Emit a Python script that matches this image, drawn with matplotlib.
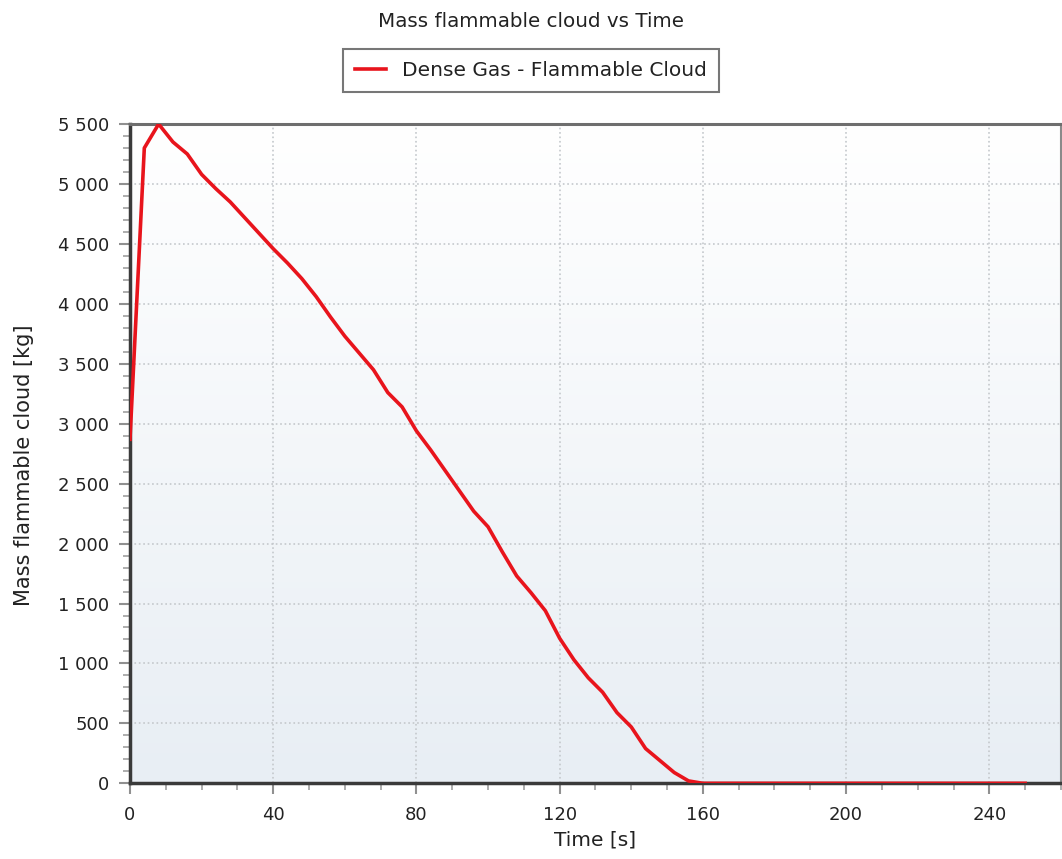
import numpy as np
import matplotlib
matplotlib.use('Agg')
import matplotlib.pyplot as plt
from matplotlib.ticker import FuncFormatter, MultipleLocator

# Dense gas flammable cloud mass
time_s = [0, 4, 8, 12, 16, 20, 24, 28, 32, 36, 40, 44, 48, 52, 56, 60,
          64, 68, 72, 76, 80, 84, 88, 92, 96, 100, 104, 108, 112, 116,
          120, 124, 128, 132, 136, 140, 144, 148, 152, 156, 160, 250]
mass_kg = [2870, 5300, 5500, 5350, 5250, 5080, 4960, 4850, 4720, 4590,
           4460, 4340, 4210, 4060, 3890, 3730, 3590, 3450, 3260, 3140,
           2940, 2780, 2610, 2440, 2270, 2140, 1930, 1730, 1590, 1440,
           1210, 1030, 880, 760, 590, 470, 290, 190, 90, 20, 0, 0]

series_label = 'Dense Gas - Flammable Cloud'
title = 'Mass flammable cloud vs Time'
x_label = 'Time [s]'
y_label = 'Mass flammable cloud [kg]'


def thousands(v, pos):
    return f'{int(round(v)):,}'.replace(',', ' ')


fig = plt.figure(figsize=(10.62, 8.59), dpi=100)
ax = fig.add_axes([0.1224, 0.0881, 0.8766, 0.7675])

x_max, y_max = 260, 5500

# vertical gradient background, white at top to pale blue-grey at bottom
grad = np.linspace(0, 1, 256).reshape(-1, 1)
top = np.array([1.0, 1.0, 1.0])
bot = np.array([232, 238, 244]) / 255
img = top[None, None, :] * (1 - grad[..., None]) + bot[None, None, :] * grad[..., None]
ax.imshow(img, extent=[0, x_max, 0, y_max], aspect='auto', origin='upper', zorder=0)

ax.plot(time_s, mass_kg, color='#e8141c', linewidth=2.6, label=series_label,
        zorder=3, solid_joinstyle='round')

ax.set_xlim(0, x_max)
ax.set_ylim(0, y_max)
ax.xaxis.set_major_locator(MultipleLocator(40))
ax.xaxis.set_minor_locator(MultipleLocator(10))
ax.yaxis.set_major_locator(MultipleLocator(500))
ax.yaxis.set_minor_locator(MultipleLocator(100))
ax.yaxis.set_major_formatter(FuncFormatter(thousands))

ax.grid(True, which='major', color='#c4c8cc', linestyle=':', linewidth=1.2, zorder=1)
ax.set_axisbelow(True)

ax.tick_params(axis='both', which='major', length=8, width=1.5, color='#909090',
               labelsize=13, labelcolor='#222222')
ax.tick_params(axis='y', which='major', pad=7)
ax.tick_params(axis='x', which='major', pad=8)
ax.tick_params(axis='both', which='minor', length=5, width=1.2, color='#a0a0a0')

for side, (c, w) in {'left': ('#3a3a3a', 2.5), 'bottom': ('#3a3a3a', 2.5),
                     'top': ('#6e6e6e', 2.2), 'right': ('#8a8a8a', 1.5)}.items():
    ax.spines[side].set_color(c)
    ax.spines[side].set_linewidth(w)

ax.set_xlabel(x_label, fontsize=14.5, color='#222222', labelpad=5)
ax.set_ylabel(y_label, fontsize=15, color='#222222')
ax.yaxis.set_label_coords(-0.103, 0.483)

fig.text(0.5, 0.975, title, ha='center', va='center', fontsize=14.3, color='#222222')

leg = fig.legend(loc='center', bbox_to_anchor=(0.5, 0.918), fontsize=14.5,
                 frameon=True, fancybox=False, handlelength=1.5,
                 borderpad=0.6, edgecolor='#555555')
leg.get_frame().set_linewidth(1.5)
for text in leg.get_texts():
    text.set_color('#222222')

fig.savefig('out.png', dpi=100)
plt.close(fig)
